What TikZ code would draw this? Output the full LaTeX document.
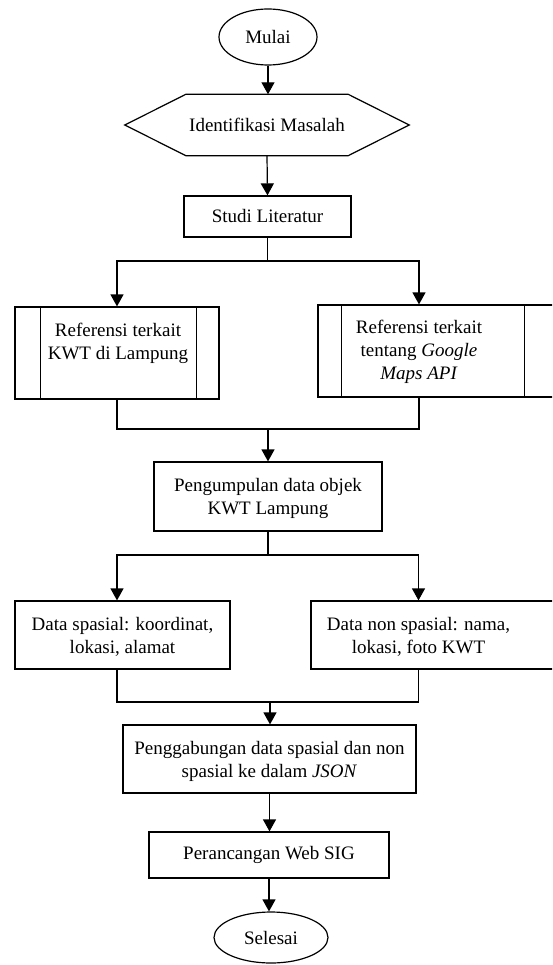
\documentclass[tikz,border=0pt]{standalone}
\usepackage{fontspec}
\setmainfont{Liberation Serif}
\usetikzlibrary{arrows.meta,calc,shapes.geometric}
\begin{document}
\begin{tikzpicture}[x=1pt,y=-1pt,
  every node/.style={font=\fontsize{19}{23}\selectfont},
  box/.style={draw, line width=1.2pt, inner sep=0pt, align=center},
  txt/.style={inner sep=0pt, align=center},
  term/.style={draw, ellipse, line width=1.2pt, inner sep=0pt},
  line/.style={line width=1.2pt},
  arr/.style={line width=1.2pt, -{Triangle[width=13pt,length=12pt]}}]
\clip (0,0) rectangle (552,965);
\fill[white] (0,0) rectangle (552,965);

% nodes
\node[term, minimum width=98pt, minimum height=56pt] (mulai) at (268,37) {Mulai};
\node[txt, minimum width=284pt, minimum height=61pt] (hex) at (267,125) {Identifikasi Masalah};
\draw[line] (hex.west) -- ($(hex.north west)+(61,0)$) -- ($(hex.north east)+(-61,0)$)
  -- (hex.east) -- ($(hex.south east)+(-61,0)$) -- ($(hex.south west)+(61,0)$) -- cycle;
\node[box, minimum width=167pt, minimum height=41pt] (studi) at (267.5,216.5) {Studi Literatur};

\node[box, minimum width=204pt, minimum height=92pt] (ref1) at (117,353) {};
\draw[line] ($(ref1.north west)+(26,0)$) -- ($(ref1.south west)+(26,0)$);
\draw[line] ($(ref1.north east)+(-23,0)$) -- ($(ref1.south east)+(-23,0)$);
\node[txt] (ref1t) at (118,343) {Referensi terkait\\KWT di Lampung};

\node[box, minimum width=262pt, minimum height=92pt] (ref2) at (449,351) {};
\draw[line] ($(ref2.north west)+(24,0)$) -- ($(ref2.south west)+(24,0)$);
\draw[line] ($(ref2.north west)+(207,0)$) -- ($(ref2.south west)+(207,0)$);
\node[txt] (ref2t) at (419,352) {Referensi terkait\\tentang \textit{Google}\\\textit{Maps API}};

\node[box, minimum width=228pt, minimum height=69pt] (peng) at (268,496.5) {};
\node[txt] (pengt) at (268,498.5) {Pengumpulan data objek\\KWT Lampung};

\node[box, minimum width=215pt, minimum height=68pt] (dl) at (122.5,635) {};
\node[txt] (dlt) at (122.5,636.5) {Data spasial: koordinat,\\lokasi, alamat};
\node[box, minimum width=269pt, minimum height=68pt] (dr) at (445.5,635) {};
\node[txt] (drt) at (418.5,636.5) {Data non spasial: nama,\\lokasi, foto KWT};

\node[box, minimum width=293pt, minimum height=68pt] (gab) at (269.5,759) {};
\node[txt] (gabt) at (269.5,761.5) {Penggabungan data spasial dan non\\spasial ke dalam \textit{JSON}};

\node[box, minimum width=240pt, minimum height=46pt] (web) at (269,855) {Perancangan Web SIG};
\node[term, minimum width=114pt, minimum height=51pt] (selesai) at (271,937.5) {Selesai};

% junctions
\coordinate (j1) at (267.5,261);
\coordinate (j2) at (268,429);
\coordinate (j3) at (268,555);
\coordinate (j4) at (270,702);
\coordinate (r2in) at (ref2.north -| ref2t.center);
\coordinate (r2out) at (ref2.south -| ref2t.center);
\coordinate (dlin) at (dl.north -| ref1.center);
\coordinate (dlout) at (dl.south -| ref1.center);
\coordinate (drin) at (dr.north -| drt.center);
\coordinate (drout) at (dr.south -| drt.center);

% connectors
\draw[arr] (mulai.south) -- (mulai.south |- hex.north);
\draw[arr] (hex.south) -- (studi.north);
\draw[line] (studi.south) -- (j1);
\draw[arr] (j1) -| (ref1.north);
\draw[arr] (j1) -| (r2in);
\draw[line] (ref1.south) |- (j2) -| (r2out);
\draw[arr] (j2) -- (peng.north);
\draw[line] (peng.south) -- (j3);
\draw[arr] (j3) -| (dlin);
\draw[arr] (j3) -| (drin);
\draw[line] (dlout) |- (j4) -| (drout);
\draw[arr] (j4) -- (j4 |- gab.north);
\draw[arr] (gab.south) -- (gab.south |- web.north);
\draw[arr] (web.south) -- (web.south |- selesai.north);
\end{tikzpicture}
\end{document}
